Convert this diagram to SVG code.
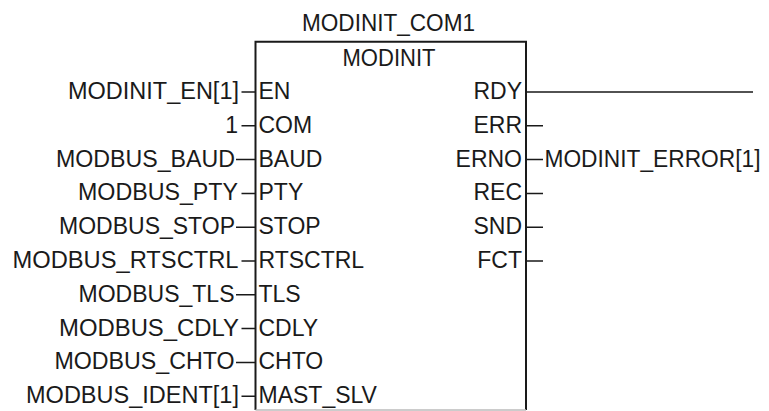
<svg xmlns="http://www.w3.org/2000/svg" width="769" height="411" viewBox="0 0 769 411">
<style>
text{font-family:"Liberation Sans",Arial,sans-serif;font-size:23px;fill:#1a1a1a}
.end{text-anchor:end}
.mid{text-anchor:middle}
.w{stroke:#1a1a1a;stroke-width:1.5;fill:none}
.edge{stroke:#1a1a1a;stroke-width:2;fill:none}
</style>
<rect width="769" height="411" fill="#fff"/>
<g id="modinit_block">
<text class="mid" x="388.5" y="31" textLength="173" lengthAdjust="spacingAndGlyphs">MODINIT_COM1</text>
<path class="edge" d="M255.5 410V41.7H526V410"/>
<line x1="255.5" y1="410" x2="526" y2="410" stroke="#bbb" stroke-width="1.5"/>
<text class="mid" x="389" y="66" textLength="93" lengthAdjust="spacingAndGlyphs">MODINIT</text>
<text x="258.5" y="99">EN</text>
<text x="258.5" y="132.8">COM</text>
<text x="258.5" y="166.6">BAUD</text>
<text x="258.5" y="200.4">PTY</text>
<text x="258.5" y="234.2">STOP</text>
<text x="258.5" y="268">RTSCTRL</text>
<text x="258.5" y="301.8">TLS</text>
<text x="258.5" y="335.6">CDLY</text>
<text x="258.5" y="369.4">CHTO</text>
<text x="258.5" y="403.2">MAST_SLV</text>
<text class="end" x="522" y="99">RDY</text>
<text class="end" x="522" y="132.8">ERR</text>
<text class="end" x="522" y="166.6">ERNO</text>
<text class="end" x="522" y="200.4">REC</text>
<text class="end" x="522" y="234.2">SND</text>
<text class="end" x="522" y="268">FCT</text>
</g>
<g id="inputs">
<text class="end" x="239" y="99" textLength="171" lengthAdjust="spacingAndGlyphs">MODINIT_EN[1]</text>
<text class="end" x="238" y="132.8">1</text>
<text class="end" x="235" y="166.6" textLength="179" lengthAdjust="spacingAndGlyphs">MODBUS_BAUD</text>
<text class="end" x="238" y="200.4" textLength="160" lengthAdjust="spacingAndGlyphs">MODBUS_PTY</text>
<text class="end" x="235" y="234.2" textLength="176" lengthAdjust="spacingAndGlyphs">MODBUS_STOP</text>
<text class="end" x="238.5" y="268" textLength="226" lengthAdjust="spacingAndGlyphs">MODBUS_RTSCTRL</text>
<text class="end" x="234.5" y="301.8" textLength="156" lengthAdjust="spacingAndGlyphs">MODBUS_TLS</text>
<text class="end" x="239" y="335.6" textLength="180" lengthAdjust="spacingAndGlyphs">MODBUS_CDLY</text>
<text class="end" x="234.5" y="369.4" textLength="180" lengthAdjust="spacingAndGlyphs">MODBUS_CHTO</text>
<text class="end" x="239" y="403.2" textLength="213" lengthAdjust="spacingAndGlyphs">MODBUS_IDENT[1]</text>
</g>
<g id="outputs">
<text x="544.5" y="166.6" textLength="216" lengthAdjust="spacingAndGlyphs">MODINIT_ERROR[1]</text>
</g>
<g id="connectors" class="w">
<path d="M241.5 92H255M241.5 125.8H255M236 159.6H255M241.5 193.4H255M236 227.2H255M241.5 261H255M236 294.8H255M241.5 328.6H255M236 362.4H255M241.5 396.2H255"/>
<path d="M526 92H753M526 125.8H543M526 159.6H543M526 193.4H543M526 227.2H543M526 261H543"/>
</g>
</svg>
